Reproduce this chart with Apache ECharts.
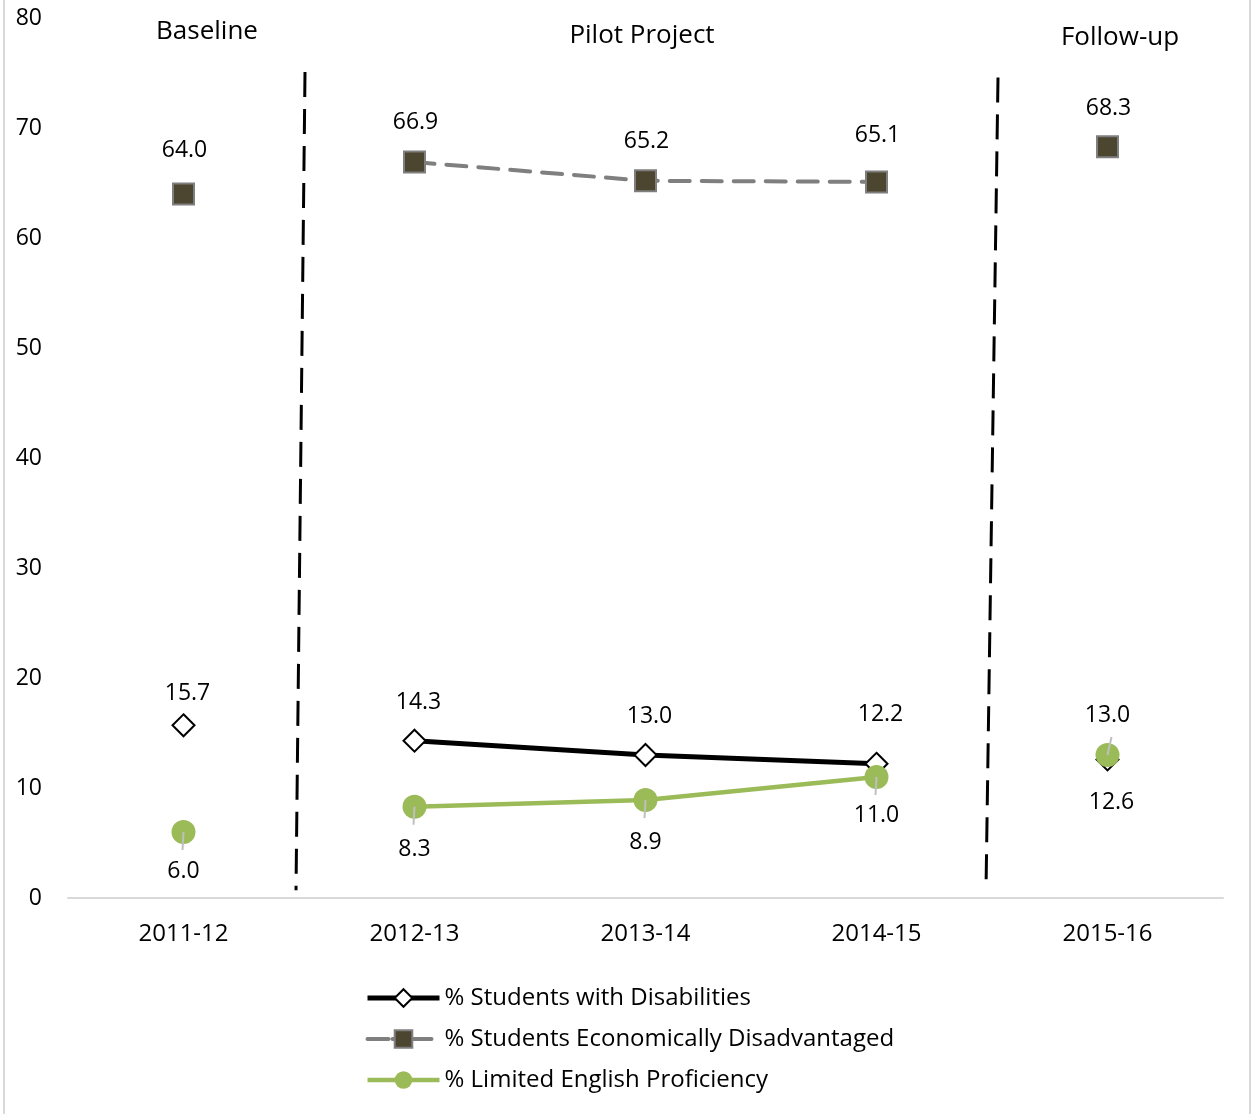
<!DOCTYPE html>
<html>
<head>
<meta charset="utf-8">
<style>
  html, body { margin: 0; padding: 0; background: #fff; }
  #chart { width: 1252px; height: 1114px; }
</style>
<script src="https://cdn.jsdelivr.net/npm/echarts@6/dist/echarts.min.js"></script>
</head>
<body>
<div id="chart"></div>
<script>
// School years on the horizontal axis
const years = ['2011-12', '2012-13', '2013-14', '2014-15', '2015-16'];

// Percentages per year
const disabilities = [15.7, 14.3, 13.0, 12.2, 12.6];
const econDisadvantaged = [64.0, 66.9, 65.2, 65.1, 68.3];
const limitedEnglish = [6.0, 8.3, 8.9, 11.0, 13.0];

// Y axis scale
const yMin = 0, yMax = 80, yStep = 10;

// Phase headings
const phases = ['Baseline', 'Pilot Project', 'Follow-up'];

// Phase dividers, as [x, y] ends on a continuous index scale (-0.5 .. 4.5)
const dividerA = [[0.526, 75.1], [0.487, 0.7]];
const dividerB = [[3.526, 74.6], [3.474, 0.7]];

// Which side of the marker each value label sits on, and how far away
const disSide = ['top', 'top', 'top', 'top', 'bottom'];
const edSide = ['top', 'top', 'top', 'top', 'top'];
const lepSide = ['bottom', 'bottom', 'bottom', 'bottom', 'top'];
const disGap = [8, 15, 15, 26, 20];
const edGap = [21, 17, 16, 23, 15];
const lepGap = [16, 19, 19, 15, 16];

const FONT = '"Open Sans", "Noto Sans", sans-serif';
const names = [
  '% Students with Disabilities',
  '% Students Economically Disadvantaged',
  '% Limited English Proficiency'
];

const isPilot = i => i >= 1 && i <= 3;

// Build point items; pilot years are joined by a line, baseline and follow-up stand alone
function points(arr, sides, gaps, pilot, dx) {
  return arr.map((v, i) => {
    if (isPilot(i) !== pilot) return null;
    return { value: v, label: { position: sides[i], distance: gaps[i], offset: [dx, 0] } };
  });
}

const labelBase = { show: true, color: '#000', fontFamily: FONT, fontSize: 23, formatter: p => p.value.toFixed(1) };

const disStyle = {
  symbol: 'diamond', symbolSize: 22,
  itemStyle: { color: '#fff', borderColor: '#000', borderWidth: 2 },
  lineStyle: { color: '#000', width: 5 }
};
const edStyle = {
  symbol: 'rect', symbolSize: 21,
  itemStyle: { color: '#4c4530', borderColor: '#7f7f7f', borderWidth: 2 },
  lineStyle: { color: '#7f7f7f', width: 4, type: [20, 12], cap: 'round' }
};
const lepStyle = {
  symbol: 'circle', symbolSize: 24,
  itemStyle: { color: '#9bbb59', borderColor: '#9bbb59', borderWidth: 0 },
  lineStyle: { color: '#9bbb59', width: 4.5 }
};

function series(name, arr, sides, gaps, style, z, dx) {
  return [
    Object.assign({
      name, type: 'line', data: points(arr, sides, gaps, true, dx), showAllSymbol: true, z,
      label: labelBase
    }, style),
    Object.assign({
      name, type: 'line', data: points(arr, sides, gaps, false, dx), showAllSymbol: true, z,
      label: labelBase
    }, style)
  ];
}

// Short grey leader from each proficiency marker toward its label
const leaderData = limitedEnglish.map((v, i) => [i, v, lepSide[i] === 'top' ? -1 : 1]);
const leaderSeries = {
  type: 'custom', silent: true, z: 6,
  data: leaderData,
  renderItem: (params, api) => {
    const p = api.coord([api.value(0), api.value(1)]);
    const dir = api.value(2);
    const lean = dir < 0 ? 4 : -1;
    return {
      type: 'line',
      shape: { x1: p[0], y1: p[1], x2: p[0] + lean, y2: p[1] + dir * 18 },
      style: { stroke: '#bfbfbf', lineWidth: 2 }
    };
  }
};

const chart = echarts.init(document.getElementById('chart'));

chart.setOption({
  backgroundColor: '#fff',
  animation: false,
  grid: { left: 68, right: 29, top: 18, bottom: 216, containLabel: false },
  legend: {
    data: [
      { name: names[0] },
      { name: names[1], lineStyle: { type: [21, 4, 39, 20] } },
      { name: names[2] }
    ],
    orient: 'vertical',
    left: 360, top: 981,
    itemWidth: 72, itemHeight: 22, itemGap: 17,
    lineStyle: { width: 'inherit' },
    textStyle: { color: '#000', fontFamily: FONT, fontSize: 24 },
    selectedMode: false
  },
  xAxis: [
    {
      type: 'category', data: years, boundaryGap: true,
      axisLine: { lineStyle: { color: '#d9d9d9', width: 2 } },
      axisTick: { show: false },
      axisLabel: { color: '#000', fontFamily: FONT, fontSize: 24, margin: 24 }
    },
    { type: 'value', min: -0.5, max: 4.5, show: false }
  ],
  yAxis: {
    type: 'value', min: yMin, max: yMax, interval: yStep,
    axisLine: { show: false }, axisTick: { show: false },
    splitLine: { show: false },
    axisLabel: { color: '#000', fontFamily: FONT, fontSize: 23, margin: 26 }
  },
  graphic: [
    { type: 'rect', left: 3, top: 0, shape: { width: 2, height: 1114 }, style: { fill: '#d9d9d9' }, silent: true },
    { type: 'rect', left: 1249, top: 0, shape: { width: 2, height: 1114 }, style: { fill: '#d9d9d9' }, silent: true },
    { type: 'text', x: 207, y: 32, style: { text: phases[0], fill: '#000', font: '26px ' + FONT, align: 'center', verticalAlign: 'middle' } },
    { type: 'text', x: 642, y: 36, style: { text: phases[1], fill: '#000', font: '26px ' + FONT, align: 'center', verticalAlign: 'middle' } },
    { type: 'text', x: 1120, y: 38, style: { text: phases[2], fill: '#000', font: '26px ' + FONT, align: 'center', verticalAlign: 'middle' } }
  ],
  series: [
    ...series(names[0], disabilities, disSide, disGap, disStyle, 3, 4),
    ...series(names[1], econDisadvantaged, edSide, edGap, edStyle, 4, 1),
    ...series(names[2], limitedEnglish, lepSide, lepGap, lepStyle, 5, 0),
    leaderSeries,
    // Phase dividers
    {
      type: 'line', xAxisIndex: 1, data: dividerA, symbol: 'none', silent: true, z: 2,
      lineStyle: { color: '#000', width: 3, type: [25, 12] }
    },
    {
      type: 'line', xAxisIndex: 1, data: dividerB, symbol: 'none', silent: true, z: 2,
      lineStyle: { color: '#000', width: 3, type: [25, 12] }
    }
  ]
});
</script>
</body>
</html>
